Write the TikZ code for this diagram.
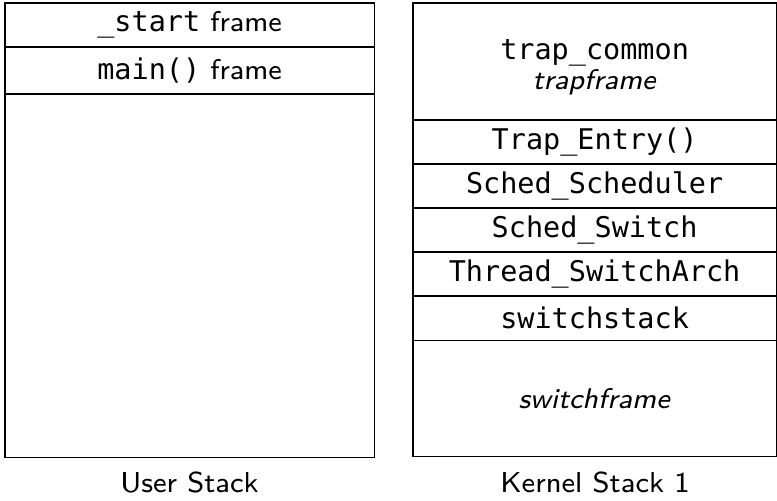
\documentclass[tikz,border=0pt]{standalone}
\usepackage{fontspec}
\setmonofont{DejaVu Sans Mono}
\usetikzlibrary{positioning}
\tikzset{
  frm/.style={draw, inner sep=0pt, outer sep=0pt, minimum height=0.44cm,
    font=\fontsize{8.1}{11}\selectfont\sffamily},
  ustk/.style={frm, minimum width=3.69cm},
  kstk/.style={frm, minimum width=3.63cm},
  stkname/.style={font=\fontsize{8.2}{10}\selectfont\sffamily}
}
\begin{document}
\begin{tikzpicture}[x=0.01cm,y=-0.01cm]
  \useasboundingbox (0,0) rectangle (777,500);
  % user stack
  \node[ustk, anchor=north west] (start) at (5,3) {{\ttfamily\_start} frame};
  \node[ustk, minimum height=0.47cm, below=0pt of start] (main) {{\ttfamily main()} frame};
  \node[ustk, minimum height=3.63cm, below=0pt of main] (ufree) {};
  \node[stkname] (ulabel) at (189.5,482) {User Stack};

  % kernel stack
  \node[kstk, minimum height=1.17cm, anchor=north west] (trap) at (413,3) {};
  \node[font=\fontsize{8.1}{11}\selectfont\sffamily, align=center, inner sep=0pt,
    yshift=-0.055cm] (traptext) at (trap.center)
    {\ttfamily trap\_common\\[-2.5pt]\textit{trapframe}};
  \node[kstk, below=0pt of trap] (entry) {\ttfamily Trap\_Entry()};
  \node[kstk, below=0pt of entry] (sched) {\ttfamily Sched\_Scheduler};
  \node[kstk, below=0pt of sched] (switch) {\ttfamily Sched\_Switch};
  \node[kstk, below=0pt of switch] (arch) {\ttfamily Thread\_SwitchArch};
  \node[kstk, below=0pt of arch] (sstack) {\ttfamily switchstack};
  \node[kstk, minimum height=1.16cm, below=0pt of sstack] (sframe) {\textit{switchframe}};
  \node[stkname] (klabel) at (595,482) {Kernel Stack 1};
\end{tikzpicture}
\end{document}
